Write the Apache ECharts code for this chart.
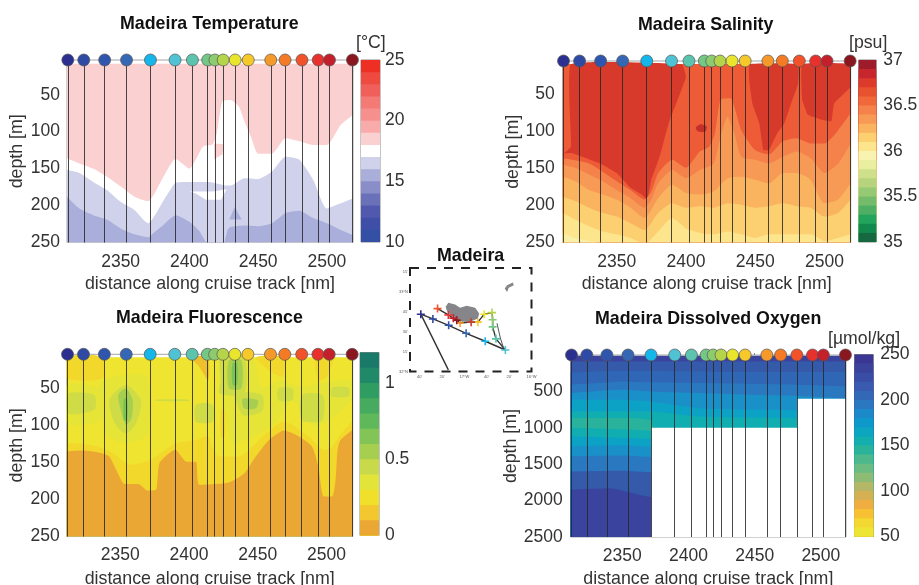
<!DOCTYPE html>
<html><head><meta charset="utf-8">
<style>html,body{margin:0;padding:0;background:#fff}#c{width:919px;height:585px;filter:blur(0.45px)}</style>
<script src="https://cdn.jsdelivr.net/npm/echarts@6/dist/echarts.min.js"></script></head>
<body><div id="c"></div>
<script>
const stations=[2311.6,2323.2,2338.4,2354.3,2371.7,2389.6,2402.2,2413.3,2418.6,2424.6,2433.3,2442.8,2459.2,2469.6,2481.9,2493.7,2501.9,2518.6];
const stationColors=['#2b3090','#2e4aa5','#2f55ae','#3567b5','#15b6ea','#4fc3d4','#5cc4ae','#74c785','#8dcc6e','#b5d44a','#e9e52d','#f7c82a','#f59a2a','#f47a25','#f1522a','#e8312c','#c3202c','#8a1620'];
const distTicks=[2350,2400,2450,2500];
const depthTicks=[50,100,150,200,250];
const oxyDepthTicks=[500,1000,1500,2000,2500];

// Temperature contours: [distance nm, depth m]
const tempTop=[[2311,8],[2519,8]];
const tempPinkWhite=[[2311,136],[2320,143],[2330,150],[2340,161],[2350,174],[2360,188],[2370,194],[2380,165],[2390,137],[2400,150],[2410,120],[2417,117],[2420,102],[2424,59],[2430,57],[2436,66],[2440,86],[2445,108],[2450,130],[2460,130],[2470,109],[2480,113],[2490,118],[2500,118],[2510,91],[2519,77]];
const tempWhiteLight=[[2311,152],[2320,156],[2330,168],[2340,179],[2350,195],[2360,206],[2370,224],[2376,210],[2380,197],[2386,179],[2390,169],[2400,168],[2413.5,168],[2420,170],[2427,173],[2430,173],[2440,163],[2450,164],[2460,154],[2470,134],[2480,138],[2490,165],[2500,204],[2510,197],[2519,190]];
const tempLightMid=[[2311,188],[2320,204],[2330,213],[2340,219],[2350,231],[2360,239],[2370,243],[2374,237],[2380,228],[2390,213],[2400,222],[2407.5,235],[2412,249],[2417,252],[2424.5,252],[2428,232],[2430,229],[2440,227],[2450,228],[2460,224],[2470,210],[2480,207],[2490,217],[2500,224],[2510,233],[2519,240]];
const tempPinkIsle=[[2418,116],[2425,117],[2424,131],[2418,137]];
const tempWhiteIsle=[[2400,181],[2417,181],[2427,178],[2423,192],[2412,192],[2405,184]];
const tempTriangle=[[2433,202],[2429,219],[2438,219]];
const tempBarTops=[25,24,23,22,21,20,19,18,17,16,15,14,13,12,11];
const tempBarColors=['#ee2f24','#ef4a40','#f15f5a','#f47a76','#f6908f','#f9abab','#fbd0d0','#ffffff','#cfd2ea','#aaaeda','#8a8ec8','#6b71b9','#5059ad','#3f4fa8','#3350a4'];

// Salinity contours
const salTop=[[2311,8.6],[2519,8.6]];
const salL1=[[2311,136],[2330,143],[2350,167],[2360,179],[2370,192],[2375,181],[2380,156],[2390,138],[2400,149],[2410,127],[2417,120],[2421,102],[2425,57],[2432,55],[2440,98],[2450,125],[2460,131],[2470,113],[2480,109],[2490,116],[2500,116],[2510,98],[2519,75]];
const salL2=[[2311,145],[2320,149],[2330,158],[2340,167],[2350,179],[2360,190],[2370,203],[2375,192],[2380,170],[2390,152],[2400,163],[2410,152],[2420,143],[2425,107],[2430,80],[2435,102],[2440,134],[2450,138],[2460,143],[2470,134],[2480,127],[2490,136],[2500,156],[2510,143],[2519,116]];
const salL3=[[2311,161],[2320,167],[2330,179],[2340,185],[2350,192],[2360,203],[2370,217],[2380,190],[2390,172],[2400,183],[2410,185],[2420,181],[2430,163],[2440,161],[2450,165],[2460,170],[2470,156],[2480,156],[2490,165],[2500,197],[2510,192],[2519,170]];
const salL4=[[2311,188],[2320,194],[2330,203],[2340,210],[2350,215],[2360,224],[2370,233],[2380,210],[2390,197],[2400,203],[2410,201],[2420,203],[2430,197],[2440,199],[2450,203],[2460,201],[2470,197],[2480,201],[2490,203],[2500,215],[2510,210],[2519,192]];
const salL5=[[2311,210],[2320,219],[2330,228],[2340,235],[2350,239],[2360,244],[2370,252],[2380,235],[2390,217],[2400,231],[2410,237],[2420,239],[2430,235],[2440,239],[2450,244],[2460,239],[2470,239],[2480,239],[2490,239],[2500,248],[2510,244],[2519,239]];
const salL6=[[2311,237],[2320,244],[2330,248],[2340,252]];
const salDark1=[[2317,9],[2397,9],[2400,26],[2394,57],[2387.5,89],[2381,134],[2375,165],[2372,192],[2368,185],[2360,176],[2350,156],[2338,143],[2328,136],[2317,129],[2311,130],[2311,131],[2317,120]];
const salDark2=[[2446,9],[2481,9],[2481,35],[2476,62],[2471,89],[2466,102],[2460,125],[2456,125],[2453,89],[2448,62],[2446,35]];
const salDark3=[[2484,9],[2519,9],[2519,39],[2507,62],[2505,86],[2498,84],[2488,77],[2484,57]];
const salSpot=[[2407,95],[2410.5,90],[2415,93],[2414,100],[2409,100]];
const salBarTops=[37,36.9,36.8,36.7,36.6,36.5,36.4,36.3,36.2,36.1,36,35.9,35.8,35.7,35.6,35.5,35.4,35.3,35.2,35.1];
const salBarColors=['#9e1b2b','#c7262c','#dc3a2b','#e8532f','#f0693a','#f4824a','#f79a55','#fab35f','#fcd070','#fde58d','#f8f3b0','#e9eea0','#cfe08b','#b5d47d','#96c973','#74bc6b','#4eae63','#22a45c','#128a4e','#15683f'];

// Fluorescence contours
const fluTop=[[2311,8],[2519,8]];
const fluP1=[[2311,45.5],[2335,52],[2335,93],[2311,97]];
const fluP2=[[2335,43],[2369,34],[2370,111],[2354,124],[2340,111]];
const fluP3=[[2422,8],[2446,8],[2453,48],[2468,39],[2480,48],[2518,39],[2518,66],[2492,102],[2475,66],[2463,97],[2451,111],[2431.6,124],[2427,93]];
const fluO1=[[2311,8],[2337,8],[2337,36.5],[2311,36.5]];
const fluO2=[[2401.5,8],[2413.5,8],[2414,39],[2407.5,21]];
const fluO3=[[2448.5,8],[2470,8],[2468,34],[2459,27]];
const fluO4=[[2492,8],[2505,8],[2500,34],[2494,39]];
const fluO5=[[2423,79],[2426,79],[2426,115],[2423,115]];
const fluO6=[[2409,117],[2415,117],[2415,147],[2409,147]];
const fluG1=[[2312,57],[2331,59],[2331,79],[2312,84]];
const fluG2=[[2342,66],[2354,45.5],[2365,66],[2361.5,97],[2354,111],[2346,97]];
const fluG3=[[2423,8],[2440,8],[2440,57],[2422,57],[2423,39]];
const fluG4=[[2434,57],[2453,59],[2453,81],[2439,86]];
const fluG5=[[2465,50],[2475,50],[2475,66],[2465,66]];
const fluG6=[[2482,59],[2497,59],[2497,93],[2482,93]];
const fluG7=[[2405,72],[2417,72],[2417,95],[2405,95]];
const fluG8=[[2504,49],[2516,49],[2516,61],[2504,61]];
const fluG9=[[2376,65],[2400,65],[2400,67],[2376,67]];
const fluM1=[[2348.5,59],[2354,50],[2359,66],[2358,91],[2354,99],[2350,77]];
const fluM2=[[2429,12],[2438,12],[2438,50],[2429,50]];
const fluM3=[[2439,64],[2450,66],[2448.5,77],[2440,77]];
const fluD1=[[2352.5,64],[2355,64],[2355,93],[2352.5,93]];
const fluD2=[[2431.6,16],[2435,16],[2435,45],[2431.6,45]];
const fluYO=[[2311,124],[2323,125],[2335,129],[2345,138],[2354,151],[2359,153],[2371,147],[2376,142],[2390,124],[2405,120],[2412,115],[2422,142],[2436,142],[2446,129],[2456,111],[2468,95],[2475,99],[2487,115],[2498,133],[2504,129],[2509,115],[2519,93]];
const fluOrange=[[2311,135],[2323,134],[2335,137],[2342,142],[2347,160],[2353,179],[2363,179],[2370,188],[2376,187],[2378.5,151],[2390,133],[2398,149],[2405,149],[2407.5,180],[2429,177],[2440,165],[2448.5,142],[2458,120],[2469,107],[2480,115],[2489.6,129],[2494,156],[2498,196],[2504,196],[2506.5,174],[2508,133],[2510,120],[2519,106]];
const fluBarTops=[1.2,1.1,1,0.9,0.8,0.7,0.6,0.5,0.4,0.3,0.2,0.1];
const fluBarColors=['#1a7a6a','#208a68','#2f9c62','#46ab5e','#5fb95a','#82c556','#a6cf4f','#c8d94a','#e2e43a','#f1e02a','#f3c82e','#eba733'];

// Dissolved oxygen contours
const oxyB0=[[2311,10],[2519,10]];
const oxyB1=[[2311,88],[2519,88]];
const oxyB2=[[2311,240],[2350,215],[2408,225],[2482,235],[2519,230]];
const oxyB3=[[2311,408],[2332,385],[2350,363],[2371,375],[2408,385],[2446,395],[2482,408],[2519,430]];
const oxyB4=[[2311,523],[2350,477],[2371,500],[2408,523],[2446,545],[2482,560],[2519,600]];
const oxyB5=[[2311,615],[2350,615],[2371,640],[2408,730],[2446,750],[2482,760],[2519,780]];
const oxyB6=[[2311,775],[2350,775],[2371,775],[2408,845],[2446,860],[2482,870],[2519,880]];
const oxyB7=[[2311,866],[2350,866],[2372,900],[2375,1100],[2519,1100]];
const oxyB8=[[2311,1000],[2350,1020],[2372,1040],[2519,1100]];
const oxyB9=[[2311,1118],[2350,1135],[2372,1150],[2519,1200]];
const oxyB10=[[2311,1255],[2350,1240],[2372,1260],[2519,1300]];
const oxyB11=[[2311,1392],[2350,1380],[2372,1400],[2519,1450]];
const oxyB12=[[2311,1600],[2350,1590],[2372,1610],[2519,1650]];
const oxyB13=[[2311,1850],[2340,1830],[2372,1950],[2519,1980]];
const oxyMask=[[2371.7,2500],[2371.7,1000],[2482,1000],[2482,600],[2519,600]];
const oxyBarTops=[250,240,230,220,210,200,190,180,170,160,150,140,130,120,110,100,90,80,70,60];
const oxyBarColors=['#3b3693','#3a429c','#3a4da5','#3a5aaf','#3368b7','#2c78c0','#1c8ac8','#0d9acb','#0ca6c0','#14aeae','#2bb39a','#4db88c','#6cbb80','#8ebc74','#b4b866','#d4b052','#f0ae40','#f8c033','#f3d832','#ece534'];

// Map: [longitude, latitude]
const mapTrack=[[-17.239,32.02],[-17.649,32.72],[-17.469,32.66],[-17.234,32.58],[-16.974,32.48],[-16.689,32.38],[-16.389,32.27],[-16.529,32.41],[-16.579,32.56],[-16.579,32.65],[-16.589,32.74],[-16.704,32.72],[-16.799,32.62],[-16.899,32.62],[-17.064,32.61],[-17.114,32.645],[-17.164,32.67],[-17.239,32.71],[-17.399,32.79]];
const mapStations=mapTrack.slice(1);
const mapColors=['#2b3090','#2e4aa5','#2f55ae','#3567b5','#15b6ea','#4fc3d4','#5cc4ae','#74c785','#8dcc6e','#b5d44a','#e9e52d','#f7c82a','#c3402c','#f59a2a','#8a1620','#c3202c','#e8312c','#f1522a'];
const mapSide=[[-16.514,32.605],[-16.464,32.42],[-16.414,32.29]];
const madeira=[[-17.279,32.813],[-17.239,32.863],[-17.139,32.842],[-17.064,32.80],[-16.964,32.826],[-16.839,32.80],[-16.779,32.73],[-16.799,32.667],[-16.914,32.626],[-17.039,32.626],[-17.139,32.676],[-17.214,32.717],[-17.264,32.77]];
const portoSanto=[[-16.399,33.042],[-16.364,33.084],[-16.279,33.117],[-16.264,33.084],[-16.339,33.051],[-16.364,33.0]];
const mapLonTicks=[-17.667,-17.333,-17,-16.667,-16.333,-16];
const mapLonLabels=["40'","20'","17°W","40'","20'","16°W"];
const mapLatTicks=[32,32.25,32.5,32.75,33,33.25];
const mapLatLabels=["32°N","15'","30'","45'","33°N","15'"];

const FONT='"Liberation Sans",Arial,sans-serif', TXT='#333', FS=17.5;
const plain=v=>String(v);
const grids=[],xAxes=[],yAxes=[],series=[];

function addPanel(g,yMin,yMax,yTicks){
  const i=grids.length;
  grids.push({left:g.l,top:g.t,width:g.w,height:g.h,show:true,borderColor:'#a5a5a5',borderWidth:1,outerBoundsMode:'none'});
  xAxes.push({gridIndex:i,type:'value',min:2311,max:2519,name:'distance along cruise track [nm]',nameLocation:'middle',nameGap:g.xg,
    nameTextStyle:{fontFamily:FONT,fontSize:17.8,color:TXT},splitLine:{show:false},axisLine:{show:false},
    axisTick:{show:true,inside:true,length:2,lineStyle:{color:'#888'},customValues:distTicks},
    axisLabel:{fontFamily:FONT,fontSize:FS,color:TXT,margin:g.xm,customValues:distTicks,formatter:plain}});
  yAxes.push({gridIndex:i,type:'value',inverse:true,min:yMin,max:yMax,name:'depth [m]',nameLocation:'middle',nameGap:g.ng,
    nameTextStyle:{fontFamily:FONT,fontSize:17.8,color:TXT},splitLine:{show:false},axisLine:{show:false},
    axisTick:{show:false},
    axisLabel:{fontFamily:FONT,fontSize:FS,color:TXT,margin:g.m,customValues:yTicks,formatter:plain}});
  return i;
}
function band(i,color,data,smooth){
  series.push({type:'line',xAxisIndex:i,yAxisIndex:i,data,symbol:'none',smooth:smooth===undefined?0.2:smooth,silent:true,z:1,
    lineStyle:{width:0},itemStyle:{color},areaStyle:{color,opacity:1,origin:'end'}});
}
function poly(i,color,data,smooth){
  series.push({type:'custom',xAxisIndex:i,yAxisIndex:i,data,silent:true,z:1,clip:true,coordinateSystem:'cartesian2d',
    renderItem:(p,api)=>p.dataIndex?null:{type:'polygon',shape:{points:data.map(d=>api.coord(d)),smooth:smooth===undefined?0.25:smooth},style:{fill:color}}});
}
function stationMarks(i,yTop){
  series.push({type:'scatter',xAxisIndex:i,yAxisIndex:i,data:stations.map(x=>[x,yTop]),clip:false,symbolSize:12,silent:true,z:10,
    itemStyle:{opacity:1,color:p=>stationColors[p.dataIndex],borderColor:'#555',borderWidth:0.7},
    markLine:{silent:true,symbol:'none',animation:false,label:{show:false},z:5,
      lineStyle:{color:'rgba(40,40,40,0.85)',width:1,type:'solid'},data:stations.map(x=>({xAxis:x}))}});
}
function colorBar(g,min,max,ticks,tops,colors){
  const i=grids.length;
  grids.push({left:g.l,top:g.t,width:g.w,height:g.h,show:true,borderColor:'#8a8a8a',borderWidth:1,outerBoundsMode:'none'});
  xAxes.push({gridIndex:i,type:'category',data:['bar'],axisLine:{show:false},axisTick:{show:false},axisLabel:{show:false}});
  yAxes.push({gridIndex:i,type:'value',position:'right',min,max,splitLine:{show:false},axisLine:{show:false},axisTick:{show:false},
    axisLabel:{fontFamily:FONT,fontSize:FS,color:TXT,margin:g.m,customValues:ticks,formatter:plain}});
  tops.forEach((v,k)=>series.push({type:'bar',xAxisIndex:i,yAxisIndex:i,data:[v],barWidth:'100%',barGap:'-100%',silent:true,
    itemStyle:{color:colors[k]}}));
}

// ---- Temperature
let p=addPanel({l:67,t:60,w:286,h:182.5,m:7,ng:41,xm:11,xg:33},3,250,depthTicks);
band(p,'#fbd0d0',tempTop,false);
band(p,'#ffffff',tempPinkWhite);
poly(p,'#fbd0d0',tempPinkIsle,0);
band(p,'#cfd2ea',tempWhiteLight);
poly(p,'#ffffff',tempWhiteIsle,0);
band(p,'#aaaeda',tempLightMid);
poly(p,'#aaaeda',tempTriangle,0);
stationMarks(p,3);

// ---- Salinity
p=addPanel({l:562.7,t:61,w:288,h:181.5,m:8,ng:40,xm:11,xg:33},4.5,250,depthTicks);
band(p,'#ee5b37',salTop,false);
poly(p,'#d7392b',salDark1,0.1);poly(p,'#d7392b',salDark2,0.1);poly(p,'#d7392b',salDark3,0.1);poly(p,'#c3302a',salSpot);
band(p,'#f4824a',salL1);
band(p,'#f79a55',salL2);
band(p,'#fab35f',salL3);
band(p,'#fcd070',salL4);
band(p,'#fde58d',salL5);
band(p,'#f8efa8',salL6);
stationMarks(p,4.5);

// ---- Fluorescence
p=addPanel({l:66.7,t:354.3,w:286,h:182.2,m:7,ng:41,xm:10,xg:33.5},4,250,depthTicks);
band(p,'#efe42f',fluTop,false);
[fluP1,fluP2,fluP3].forEach(d=>poly(p,'#e5e437',d));
[fluO1,fluO3,fluO4,fluO5,fluO6].forEach(d=>poly(p,'#f3d82c',d));
poly(p,'#eec02e',fluO2);
[fluG1,fluG2,fluG3,fluG4,fluG5,fluG6,fluG7,fluG8,fluG9].forEach(d=>poly(p,'#cfdc46',d));
[fluM1,fluM2,fluM3].forEach(d=>poly(p,'#a6cf4f',d));
[fluD1,fluD2].forEach(d=>poly(p,'#7cc355',d));
band(p,'#f3d82c',fluYO);
band(p,'#eba733',fluOrange);
stationMarks(p,4);

// ---- Oxygen
p=addPanel({l:570.7,t:355,w:275.3,h:182,m:8,ng:46,xm:10,xg:33.5},0,2500,oxyDepthTicks);
[[oxyB0,'#3a449f'],[oxyB1,'#345aa9'],[oxyB2,'#2f66b5'],[oxyB3,'#2a78c0'],[oxyB4,'#1a90c9'],[oxyB5,'#0ca2c6'],[oxyB6,'#10aeb0'],[oxyB7,'#2ab39c'],
 [oxyB8,'#10aeb0'],[oxyB9,'#0ca2c6'],[oxyB10,'#1a90c9'],[oxyB11,'#2a78c0'],[oxyB12,'#345aa9'],[oxyB13,'#3a449f']].forEach(([d,c])=>band(p,c,d));
band(p,'#ffffff',oxyMask,false);
stationMarks(p,0);

// ---- Colour bars
colorBar({l:361,t:60,w:19,h:182,m:5},10,25,[10,15,20,25],tempBarTops,tempBarColors);
colorBar({l:858.7,t:60,w:17.5,h:182,m:7},35,37,[35,35.5,36,36.5,37],salBarTops,salBarColors);
colorBar({l:360,t:352.5,w:19,h:183,m:6},0,1.2,[0,0.5,1],fluBarTops,fluBarColors);
colorBar({l:854.5,t:354.5,w:18.8,h:182,m:7},50,250,[50,100,150,200,250],oxyBarTops,oxyBarColors);

// ---- Map
const m=grids.length;
grids.push({left:410,top:268,width:121.5,height:103.5,show:true,borderColor:'#222',borderWidth:2,borderType:[9,8],outerBoundsMode:'none'});
const tiny={fontFamily:FONT,fontSize:4,color:'#555'};
xAxes.push({gridIndex:m,type:'value',min:-17.81,max:-16,splitLine:{show:false},axisLine:{show:false},axisTick:{show:false},
  axisLabel:{...tiny,margin:3,customValues:mapLonTicks,formatter:v=>mapLonLabels[mapLonTicks.indexOf(v)]}});
yAxes.push({gridIndex:m,type:'value',min:32,max:33.3,splitLine:{show:false},axisLine:{show:false},axisTick:{show:false},
  axisLabel:{...tiny,margin:2,customValues:mapLatTicks,formatter:v=>mapLatLabels[mapLatTicks.indexOf(v)]}});
poly(m,'#85858a',madeira,0);poly(m,'#85858a',portoSanto,0);
series.push({type:'line',xAxisIndex:m,yAxisIndex:m,data:mapTrack,symbol:'none',silent:true,z:3,lineStyle:{color:'#333',width:1.4}});
series.push({type:'line',xAxisIndex:m,yAxisIndex:m,data:mapSide,symbol:'none',silent:true,z:3,lineStyle:{color:'#555',width:1}});
series.push({type:'scatter',xAxisIndex:m,yAxisIndex:m,data:mapStations,silent:true,z:4,symbolSize:8,
  symbol:'path://M4 0H6V4H10V6H6V10H4V6H0V4H4Z',itemStyle:{opacity:1,color:p=>mapColors[p.dataIndex]}});

const tBold=(text,left,top)=>({text,left,top,padding:0,textStyle:{fontFamily:FONT,fontWeight:'bold',fontSize:17.8,color:'#111'}});
const tUnit=(text,left,top)=>({text,left,top,padding:0,textStyle:{fontFamily:FONT,fontWeight:'normal',fontSize:17.7,color:TXT}});
const chart=echarts.init(document.getElementById('c'),null,{renderer:'canvas'});
chart.setOption({animation:false,backgroundColor:'#fff',
  title:[tBold('Madeira Temperature',120,15),tBold('Madeira Salinity',638,16),tBold('Madeira Fluorescence',116,309),tBold('Madeira Dissolved Oxygen',595,310),tBold('Madeira',437,247),
    tUnit('[°C]',356,34),tUnit('[psu]',849,34),tUnit('[µmol/kg]',828,330)],
  grid:grids,xAxis:xAxes,yAxis:yAxes,series});
</script></body></html>
